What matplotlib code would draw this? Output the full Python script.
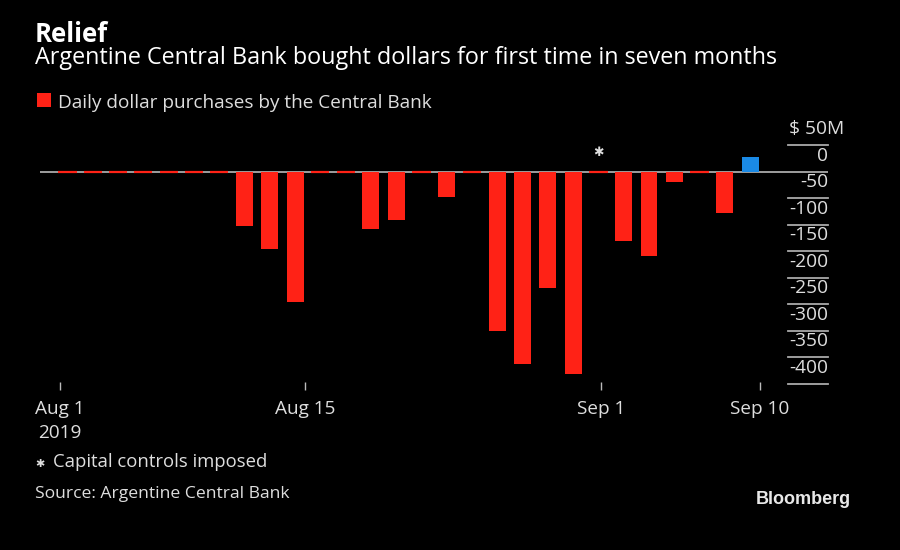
import matplotlib
matplotlib.use("Agg")
import matplotlib.pyplot as plt
import numpy as np

# ---- data ----
dates = ["Aug 1", "Aug 2", "Aug 5", "Aug 6", "Aug 7", "Aug 8", "Aug 9",
         "Aug 12", "Aug 13", "Aug 14", "Aug 15", "Aug 16",
         "Aug 20", "Aug 21", "Aug 22", "Aug 23",
         "Aug 26", "Aug 27", "Aug 28", "Aug 29", "Aug 30",
         "Sep 2", "Sep 3", "Sep 4", "Sep 5", "Sep 6", "Sep 9", "Sep 10"]
purchases = [0, 0, 0, 0, 0, 0, 0,
             -102, -146, -245, 0, 0,
             -109, -92, 0, -47,
             0, -300, -363, -220, -382,
             0, -131, -159, -19, 0, -77, 28]
tick_labels = ["Aug 1\n2019", "Aug 15", "Sep 1", "Sep 10"]
y_values = [-400, -350, -300, -250, -200, -150, -100, -50, 0, 50]
y_labels = ["-400", "-350", "-300", "-250", "-200", "-150", "-100", "-50", "0", "$ 50M"]
marked_day = "Sep 2"

# ---- style ----
BG = "black"
RED = "#ff2216"
BLUE = "#1a8ae6"
GRID = "#aaaaaa"
TXT = "#dedede"
FONT = "Open Sans"
plt.rcParams["font.family"] = [FONT, "DejaVu Sans"]

W, H = 900, 550
fig = plt.figure(figsize=(9, 5.5), dpi=100, facecolor=BG)

def fx(px):
    return px / W

def fy(py):
    return 1 - py / H

# axes occupying px x 40..828, y 140..390
ax = fig.add_axes([fx(40), fy(390), (828 - 40) / W, (390 - 140) / H])
ax.set_facecolor(BG)
for s in ax.spines.values():
    s.set_visible(False)

x = np.arange(len(dates))
vals = np.array(purchases, dtype=float)
colors = [BLUE if v > 0 else RED for v in vals]
nz = vals != 0
ax.bar(x[nz], vals[nz], width=0.67, color=[c for c, m in zip(colors, nz) if m], zorder=3)
ax.bar(x[~nz], vals[~nz], width=0.72, color=RED, edgecolor=RED, linewidth=1.6, zorder=5)

ax.set_xlim(-1.088, 30.08)
ax.set_ylim(-411.9, 59.8)

YL = 13.8
XL = 13.7
# gridlines (short, right side) and baseline
for v, lab in zip(y_values, y_labels):
    if v == 0:
        ax.axhline(0, color=GRID, lw=1.3, zorder=2)
    else:
        ax.axhline(v, xmin=0.949, xmax=1.0, color=GRID, lw=1.3, clip_on=False)
    if lab.startswith("$"):
        ax.annotate(lab, xy=(0.9505, v), xycoords=ax.get_yaxis_transform(),
                    xytext=(0, 11), textcoords="offset pixels",
                    ha="left", va="baseline", color=TXT, fontsize=YL)
    else:
        ax.annotate(lab, xy=(1.0, v), xycoords=ax.get_yaxis_transform(),
                    xytext=(0, 11), textcoords="offset pixels",
                    ha="right", va="baseline", color=TXT, fontsize=YL)

# x ticks
tick_pos = [-0.30, 9.39, 21.12, 27.38]
ax.set_xticks(tick_pos)
ax.set_xticklabels(tick_labels, color=TXT, fontsize=XL, linespacing=1.42)
ax.tick_params(axis="x", direction="in", length=5.8, width=1, color="#bbbbbb", pad=7)
ax.set_yticks([])

# asterisk marker
mi = dates.index(marked_day)
ax.annotate("\u2731", xy=(x[mi], 0), xytext=(0, 13), textcoords="offset pixels",
            ha="center", va="bottom", color=TXT, fontsize=9, family="DejaVu Sans")

# ---- text ----
fig.text(fx(35), fy(42), "Relief", color="white", fontsize=18.5, fontweight="bold",
         va="baseline", ha="left")
fig.text(fx(35), fy(64.5), "Argentine Central Bank bought dollars for first time in seven months",
         color="white", fontsize=16.8, va="baseline", ha="left")
fig.patches.append(plt.Rectangle((fx(37), fy(107)), 13.5 / W, 14 / H, transform=fig.transFigure,
                                 facecolor=RED, edgecolor="none"))
fig.text(fx(58), fy(107.5), "Daily dollar purchases by the Central Bank", color=TXT,
         fontsize=13.7, va="baseline", ha="left")

fig.text(fx(35.5), fy(467), "\u2731", color=TXT, fontsize=8, va="baseline", ha="left",
         family="DejaVu Sans")
fig.text(fx(52.7), fy(467), "Capital controls imposed", color=TXT, fontsize=13.3,
         va="baseline", ha="left")
fig.text(fx(35), fy(498), "Source: Argentine Central Bank", color=TXT, fontsize=12.6,
         va="baseline", ha="left")
fig.text(fx(851), fy(503.5), "Bloomberg", color="#e8e8e8", fontsize=13, fontweight="bold",
         va="baseline", ha="right", family="Liberation Sans")

fig.savefig("out.png", dpi=100, facecolor=BG)
